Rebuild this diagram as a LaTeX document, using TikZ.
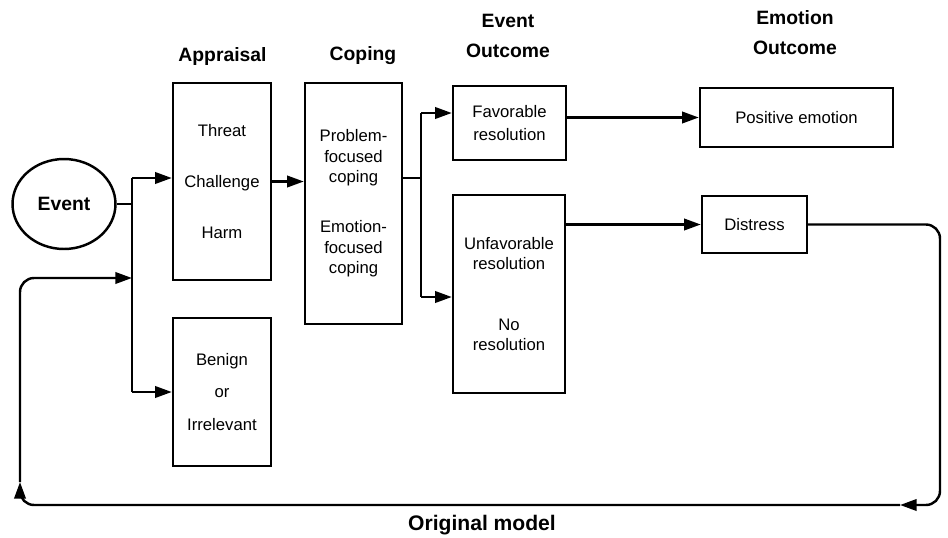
\documentclass[tikz,border=0pt]{standalone}
\usepackage{fontspec}
\setmainfont{Liberation Sans}
\usetikzlibrary{arrows.meta,shapes.geometric,positioning}

\begin{document}
\begin{tikzpicture}[x=0.02cm,y=-0.02cm,>={Triangle[length=9.5pt,width=6.5pt]},
	Edge/.style={-,black,line width=1.4pt},
	Arrow/.style={->,black,line width=1.4pt},
	StageBox/.style={rectangle,fill=white,draw=black,line width=1.4pt,align=center,inner sep=2pt,font=\fontsize{9.5}{11.6}\selectfont},
	Heading/.style={align=center,font=\fontsize{11}{17}\selectfont\bfseries},
]
	%\draw[help lines,step=10,gray!20] (0,0) grid (948,538);
	\useasboundingbox (0,0) rectangle (948,538);
	\node[ellipse,draw=black,line width=1.4pt,minimum width=2.06cm,minimum height=1.8cm,font=\fontsize{11}{13}\selectfont\bfseries] (event) at (64,204) {Event};
	\node[StageBox,minimum width=1.96cm,minimum height=3.94cm] (threat) at (222,181.5) {Threat\\[17.6pt]Challenge\\[17.6pt]Harm};
	\node[StageBox,minimum width=1.96cm,minimum height=2.96cm] (benign) at (222,392) {Benign\\[7pt]or\\[7pt]Irrelevant};
	\node[StageBox,minimum width=1.94cm,minimum height=4.82cm] (coping) at (353.5,203.5) {Problem-\\focused\\coping\\[17pt]Emotion-\\focused\\coping};
	\node[StageBox,minimum width=2.26cm,minimum height=1.48cm] (favorable) at (509.5,123) {Favorable\\[1.5pt]resolution};
	\node[StageBox,minimum width=2.24cm,minimum height=3.96cm] (unfavorable) at (509,294) {Unfavorable\\resolution\\[22.6pt]No\\resolution};
	\node[StageBox,minimum width=3.86cm,minimum height=1.18cm] (positive) at (796.5,117.5) {Positive emotion};
	\node[StageBox,minimum width=2.1cm,minimum height=1.14cm] (distress) at (754.5,224.5) {Distress};

	\node[Heading] (hAppraisal) at (222.5,56) {Appraisal};
	\node[Heading] (hCoping) at (363,56) {Coping};
	\node[Heading] (hEvent) at (508,36) {Event\\Outcome};
	\node[Heading] (hEmotion) at (795,33) {Emotion\\Outcome};
	\node[font=\fontsize{12}{14}\selectfont\bfseries] (caption) at (482,525) {Original model};

	\coordinate (jEvent) at (132,204);
	\coordinate (jTop) at (132,178);
	\coordinate (jBot) at (132,392);
	\coordinate (jBack) at (132,278);
	\coordinate (jCope) at (421,178);
	\coordinate (jFav) at (421,113);
	\coordinate (jUnfav) at (421,297);
	\coordinate (cornerR) at (940,505);
	\coordinate (backR) at (900,505);
	\coordinate (backL) at (20,482);

	\draw[Edge] (event.east) -- (jEvent);
	\draw[Edge] (jTop) -- (jBot);
	\draw[Arrow] (jTop) -- (jTop -| threat.west);
	\draw[Arrow] (jBot) -- (benign.west);
	\draw[Arrow] (threat.east) -- (threat.east -| coping.west);
	\draw[Edge] (coping.east |- jCope) -- (jCope);
	\draw[Edge] (jFav) -- (jUnfav);
	\draw[Arrow] (jFav) -- (jFav -| favorable.west);
	\draw[Arrow] (jUnfav) -- (jUnfav -| unfavorable.west);
	\draw[Arrow] (favorable.east |- positive.west) -- (positive.west);
	\draw[Arrow] (unfavorable.east |- distress.west) -- (distress.west);
	% feedback loop
	\draw[Arrow,rounded corners=8pt] (distress.east) -| (cornerR) -- (backR);
	\draw[Arrow,rounded corners=8pt] (backR) -| (backL);
	\draw[Arrow,rounded corners=8pt] (backL) |- (jBack);
\end{tikzpicture}
\end{document}
